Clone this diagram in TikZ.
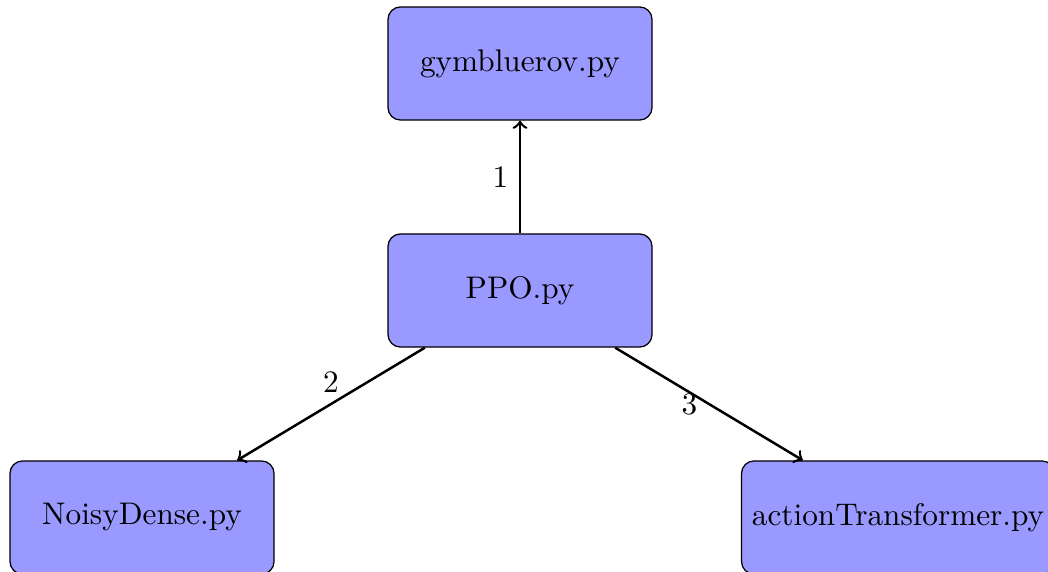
\documentclass[tikz,border=0pt]{standalone}
\begin{document}
\begin{tikzpicture}[x=0.32pt,y=-0.32pt,
  filebox/.style={draw=black, fill=blue!40, rounded corners=4pt,
    minimum width=84.5pt, minimum height=36.2pt, inner sep=3.33pt},
  link/.style={->, thick}]
\useasboundingbox (0,0) rectangle (1048,571);
\node[filebox] (gym)   at (520,63.5)  {gymbluerov.py};
\node[filebox] (ppo)   at (520,290.5) {PPO.py};
\node[filebox] (noisy) at (142,517.5) {NoisyDense.py};
\node[filebox] (act)   at (898,517.5) {actionTransformer.py};
\draw[link] (ppo) -- node[left] {1} (gym);
\draw[link] (ppo) -- node[above] {2} (noisy);
\draw[link] (ppo) -- node[left] {3} (act);
\end{tikzpicture}
\end{document}
